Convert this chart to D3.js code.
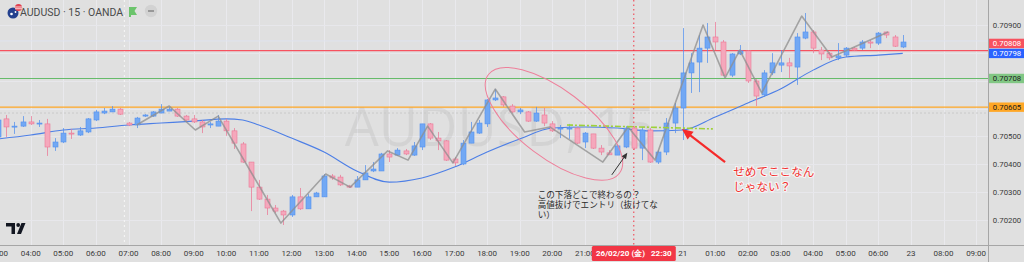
<!DOCTYPE html>
<html>
<head>
<meta charset="utf-8">
<script src="https://cdn.jsdelivr.net/npm/d3@7/dist/d3.min.js"></script>
<style>
  html, body { margin: 0; padding: 0; background: #e0e0e0; }
  svg { display: block; font-family: Roboto, "Noto Sans", sans-serif; }
</style>
</head>
<body>
<div class="chartContainer"></div>
<script>
// 15 min bars, bar 0 = 03:00
const opens = [.70498,.70563,.70534,.70537,.70552,.70545,.70545,.70462,.7048,.70512,
  .70505,.70516,.70559,.70584,.70588,.70598,.70548,.70541,.70573,.70573,
  .70584,.70591,.70598,.70573,.70563,.70552,.70541,.70537,.70555,.7052,
  .70473,.70408,.70318,.70275,.70243,.70232,.70218,.70283,.7024,.70283,
  .70283,.70358,.70354,.70322,.70318,.70344,.70376,.70376,.70437,.70433,
  .70448,.70433,.70462,.70545,.70494,.70484,.70419,.70401,.70476,.70512,
  .70545,.70631,.70642,.70609,.70588,.70588,.70555,.70577,.70545,.70527,
  .70527,.7053,.7048,.70509,.70458,.70441,.70433,.70462,.7053,.70458,
  .70523,.70408,.70444,.70548,.70602,.70728,.70767,.70817,.70857,.70839,
  .7072,.70796,.70807,.70699,.70649,.70728,.70756,.70764,.70749,.70853,
  .70875,.7081,.70799,.70782,.70792,.70817,.70817,.70839,.70835,.70875,
  .70857,.70821]
const highs = [.7057,.70577,.70552,.70573,.70573,.70559,.70563,.70494,.7053,.70527,
  .70534,.70566,.70595,.70602,.70609,.70602,.70552,.7057,.7058,.70591,
  .70616,.70606,.70602,.70577,.70577,.70559,.70552,.70577,.70563,.7053,
  .7048,.70408,.70344,.7029,.70254,.70236,.7029,.70315,.70293,.70301,
  .70365,.70365,.70362,.70326,.70358,.70397,.70408,.70441,.70451,.70458,
  .70455,.7048,.70545,.70548,.70516,.70487,.70426,.70487,.70552,.70559,
  .70634,.7067,.70645,.70616,.70602,.70591,.70606,.70602,.70555,.70541,
  .70545,.70534,.70516,.70509,.70469,.70451,.70469,.70537,.70534,.70534,
  .7053,.70451,.70566,.7062,.70889,.70799,.70864,.70907,.70911,.70846,
  .70799,.70828,.7081,.70706,.70738,.70799,.7081,.70782,.70871,.70943,
  .70882,.70821,.70803,.70835,.70821,.70821,.70846,.70846,.70875,.70875,
  .70864,.70864]
const lows = [.70487,.70498,.70509,.70534,.70541,.70534,.7043,.70448,.70476,.70491,
  .70502,.70512,.70555,.7058,.70588,.70577,.70537,.7053,.7057,.7057,
  .70584,.70591,.7057,.70555,.70548,.70512,.7053,.70537,.70502,.70455,
  .70405,.70232,.70272,.70218,.70225,.70182,.70211,.70236,.7024,.70283,
  .70283,.70344,.70322,.70315,.70318,.70344,.70372,.70376,.70408,.7043,
  .70433,.7043,.70451,.70487,.70451,.70412,.70394,.70397,.70476,.70509,
  .70534,.70627,.70606,.70584,.7058,.70552,.70552,.70537,.70516,.70494,
  .70491,.70473,.70458,.70455,.70433,.70433,.70433,.70458,.70451,.70415,
  .70405,.70401,.70433,.70512,.70487,.70656,.70659,.70764,.7081,.70717,
  .70713,.70792,.70692,.70609,.70642,.7072,.70731,.7071,.70685,.70849,
  .70799,.70774,.70774,.70774,.70785,.70807,.7081,.70817,.70828,.70853,
  .70821,.70817]
const closes = [.70559,.70534,.70537,.70552,.70545,.70548,.70462,.7048,.70512,.70509,
  .7052,.70563,.70588,.70591,.70598,.7058,.70541,.70566,.70577,.70588,
  .70598,.70598,.70573,.70559,.70552,.70534,.70545,.70555,.7052,.70476,
  .70408,.70318,.70275,.70243,.70232,.70218,.70283,.7024,.70283,.70297,
  .70358,.70351,.70326,.70318,.70344,.70369,.70383,.70437,.70426,.70451,
  .70437,.70466,.70545,.70494,.70484,.70415,.70405,.70476,.70516,.70548,
  .70631,.70638,.70613,.70588,.70595,.70555,.70584,.70548,.7052,.7053,
  .7053,.70476,.70512,.70458,.70444,.70434,.70466,.7053,.70458,.70523,
  .70408,.70444,.70548,.70602,.70728,.70764,.70817,.70857,.70839,.7072,
  .70796,.70807,.70699,.70645,.70728,.70764,.70764,.70753,.70857,.70875,
  .70817,.70796,.70782,.70789,.70817,.7081,.70839,.70835,.70871,.70864,
  .70824,.70839]

// moving average
const maBars = [0,4,8,12,16,20,24,28,30,32,36,40,44,48,52,56,60,64,68,72,76,80,84,88,92,96,100,104,108,111]
const maValues = [.70491,.70505,.70523,.7053,.70541,.70548,.70555,.70563,.70559,.70541,.70494,.70444,.70376,.70336,.70351,.7039,.70444,.70491,.7053,.70534,.7053,.7052,.70523,.7057,.7062,.7067,.70738,.70785,.70792,.70798]

// zigzag pivots
const zzBars = [17,21,24.2,27,34.7,40.2,43.2,47.8,50.3,52.7,55.8,61,64.6,67.7,74.2,77.3,80.6,86.5,89.2,91,93.7,98.6,102.3,109.2]
const zzPrices = [.70541,.70609,.70523,.70573,.70189,.70365,.70318,.70448,.70415,.70537,.70405,.7067,.70516,.70534,.70408,.70534,.70415,.709,.7071,.7081,.70656,.70932,.70785,.70875]

const levelPrices = [0.70808, 0.70708, 0.70605]
const levelColors = ['#f7525f', '#66bb6a', '#ffa726']
const prevClose = 0.70584
const faintLevel = 0.70843

const timeLabels = ['03:00','04:00','05:00','06:00','07:00','08:00','09:00','10:00','11:00','12:00',
  '13:00','14:00','15:00','16:00','17:00','18:00','19:00','20:00','21:00','22:00','23:00',
  '21','01:00','02:00','03:00','04:00','05:00','06:00','23','08:00','09:00']
const priceTicks = [0.702, 0.703, 0.704, 0.705, 0.706, 0.707, 0.708, 0.709]

const maLast = 0.70798
const crossBar = 78
const crossLabel = '26/02/20 (金)   22:30'
const sessionBar = 15.5
const dashLineBars = [69.8, 87.7]
const dashLinePrices = [0.70541, 0.70527]

var W = 1024, H = 262, plotR = 988, axisY = 245

var x = d3.scaleLinear().domain([0, 120]).range([-1.9, 976.1])
var y = d3.scaleLinear().domain([0.702, 0.709]).range([220, 25])

var svg = d3.select('.chartContainer')
  .append('svg')
  .attr('width', W)
  .attr('height', H)

svg.append('rect').attr('width', W).attr('height', H).attr('fill', '#e0e0e0')

var clip = svg.append('clipPath').attr('id', 'plot')
clip.append('rect').attr('width', plotR).attr('height', axisY)

var plot = svg.append('g').attr('clip-path', 'url(#plot)')

// grid
plot.append('g')
  .selectAll('line')
  .data(timeLabels)
  .enter()
  .append('line')
  .attr('x1', (d, i) => Math.round(x(i * 4)) + 0.5).attr('x2', (d, i) => Math.round(x(i * 4)) + 0.5)
  .attr('y1', 0).attr('y2', axisY)
  .attr('stroke', '#e9e9ed').attr('stroke-width', 1)

plot.append('g')
  .selectAll('line')
  .data(priceTicks)
  .enter()
  .append('line')
  .attr('x1', 0).attr('x2', plotR)
  .attr('y1', d => Math.round(y(d)) + 0.5).attr('y2', d => Math.round(y(d)) + 0.5)
  .attr('stroke', '#e7e7eb')

plot.append('line')
  .attr('x1', 0).attr('x2', plotR)
  .attr('y1', y(faintLevel)).attr('y2', y(faintLevel))
  .attr('stroke', '#dfe3ee').attr('stroke-width', 1)

// watermark
plot.append('text')
  .attr('x', 500).attr('y', 146)
  .attr('text-anchor', 'middle')
  .attr('font-family', '"Open Sans", sans-serif')
  .attr('font-size', 54)
  .attr('fill', 'rgba(0,0,0,0.055)')
  .text('AUDUSD, 15')

// session break
plot.append('line')
  .attr('x1', x(sessionBar)).attr('x2', x(sessionBar))
  .attr('y1', 0).attr('y2', axisY)
  .attr('stroke', '#f4f4f4').attr('stroke-width', 1.2)
  .attr('stroke-dasharray', '2,3')

// previous close (dotted)
plot.append('line')
  .attr('x1', 0).attr('x2', plotR)
  .attr('y1', y(prevClose)).attr('y2', y(prevClose))
  .attr('stroke', '#c9c9c9').attr('stroke-dasharray', '2,2')

// horizontal levels
plot.append('g')
  .selectAll('line')
  .data(levelPrices)
  .enter()
  .append('line')
  .attr('x1', 0).attr('x2', plotR)
  .attr('y1', d => y(d)).attr('y2', d => y(d))
  .attr('stroke', (d, i) => levelColors[i]).attr('stroke-width', 1.2)

// crosshair
plot.append('line')
  .attr('x1', x(crossBar)).attr('x2', x(crossBar))
  .attr('y1', 0).attr('y2', axisY)
  .attr('stroke', '#f23645').attr('stroke-width', 1)
  .attr('stroke-dasharray', '1.5,3')

// moving average
plot.append('path')
  .datum(maBars.map((b, i) => [b, maValues[i]]))
  .attr('fill', 'none')
  .attr('stroke', '#4d7fe6').attr('stroke-width', 1.1)
  .attr('d', d3.line().x(d => x(d[0])).y(d => y(d[1])).curve(d3.curveMonotoneX))

// candles
var bars = d3.range(opens.length)
var upFill = '#72a8f4', upLine = '#5390ee', dnFill = '#f5a8bc', dnLine = '#eb7896'

var candles = plot.append('g')
  .selectAll('g.candle')
  .data(bars)
  .enter()
  .append('g')
  .classed('candle', true)

candles.append('line')
  .attr('x1', d => Math.round(x(d)) + 0.5).attr('x2', d => Math.round(x(d)) + 0.5)
  .attr('y1', d => y(highs[d])).attr('y2', d => y(lows[d]))
  .attr('stroke', d => closes[d] >= opens[d] ? upLine : dnLine)
  .attr('stroke-opacity', 0.75)

candles.append('rect')
  .attr('x', d => Math.round(x(d)) - 2)
  .attr('width', 5)
  .attr('y', d => y(Math.max(opens[d], closes[d])))
  .attr('height', d => Math.max(1, Math.abs(y(opens[d]) - y(closes[d]))))
  .attr('fill', d => closes[d] >= opens[d] ? upFill : dnFill)
  .attr('stroke', d => closes[d] >= opens[d] ? upLine : dnLine)
  .attr('stroke-width', 0.6)

// zigzag
plot.append('path')
  .datum(zzBars.map((b, i) => [b, zzPrices[i]]))
  .attr('fill', 'none')
  .attr('stroke', '#8e8e8e').attr('stroke-width', 1.6)
  .attr('stroke-opacity', 0.75)
  .attr('stroke-linejoin', 'round')
  .attr('d', d3.line().x(d => x(d[0])).y(d => y(d[1])))

// green dash-dot line
plot.append('line')
  .attr('x1', x(dashLineBars[0])).attr('x2', x(dashLineBars[1]))
  .attr('y1', y(dashLinePrices[0])).attr('y2', y(dashLinePrices[1]))
  .attr('stroke', '#9ed13a').attr('stroke-width', 1.6)
  .attr('stroke-dasharray', '6,2,2,2')

// pink ellipse
plot.append('ellipse')
  .attr('cx', 0).attr('cy', 0).attr('rx', 82).attr('ry', 34)
  .attr('transform', 'translate(' + x(68.2) + ',' + y(0.70545) + ') rotate(37)')
  .attr('fill', 'none')
  .attr('stroke', '#ee7f9a').attr('stroke-width', 1)

function arrow(g, x1, y1, x2, y2, color, w, head) {
  var a = Math.atan2(y2 - y1, x2 - x1)
  g.append('line')
    .attr('x1', x1).attr('y1', y1)
    .attr('x2', x2 - Math.cos(a) * head * 0.6).attr('y2', y2 - Math.sin(a) * head * 0.6)
    .attr('stroke', color).attr('stroke-width', w)
  var p1 = [x2 - Math.cos(a) * head + Math.sin(a) * head * 0.45, y2 - Math.sin(a) * head - Math.cos(a) * head * 0.45]
  var p2 = [x2 - Math.cos(a) * head - Math.sin(a) * head * 0.45, y2 - Math.sin(a) * head + Math.cos(a) * head * 0.45]
  g.append('path')
    .attr('d', 'M' + x2 + ',' + y2 + 'L' + p1 + 'L' + p2 + 'Z')
    .attr('fill', color)
}
arrow(plot, x(75.3), y(0.70362), x(77.2), y(0.70441), '#333', 1, 6)
arrow(plot, x(89.2), y(0.70408), x(83.9), y(0.70527), '#f52a2a', 2.2, 11)

// notes
var noteLines = ['この下落どこで終わるの？', '高値抜けでエントリ（抜けてな', 'い）']
plot.append('g')
  .selectAll('text')
  .data(noteLines)
  .enter()
  .append('text')
  .attr('font-family', '"Noto Sans CJK JP", sans-serif')
  .attr('font-size', 8.6)
  .attr('fill', '#2b2b2b')
  .attr('x', x(66.2))
  .attr('y', (d, i) => 198 + i * 10)
  .text(d => d)

plot.append('g')
  .selectAll('text')
  .data(['せめてここなん', 'じゃない？'])
  .enter()
  .append('text')
  .attr('font-family', '"Noto Sans CJK JP", sans-serif')
  .attr('font-size', 11.6)
  .attr('fill', '#f2302f')
  .attr('stroke', '#ffffff').attr('stroke-width', 2.2)
  .attr('stroke-opacity', 0.7)
  .attr('paint-order', 'stroke')
  .attr('x', x(90.2))
  .attr('y', (d, i) => 176 + i * 14.5)
  .text(d => d)

// axes lines
svg.append('line')
  .attr('x1', 0).attr('x2', W).attr('y1', axisY + 0.5).attr('y2', axisY + 0.5)
  .attr('stroke', '#a6a6a6')
svg.append('line')
  .attr('x1', plotR + 0.5).attr('x2', plotR + 0.5).attr('y1', 0).attr('y2', H)
  .attr('stroke', '#a6a6a6')

// time axis labels (those under the crosshair label are hidden)
var crossX = x(crossBar)
svg.append('g')
  .selectAll('text')
  .data(timeLabels.map((d, i) => [d, i * 4]).filter(d => Math.abs(x(d[1]) - crossX) > 40))
  .enter()
  .append('text')
  .attr('x', d => x(d[1]))
  .attr('y', 256)
  .attr('text-anchor', 'middle')
  .attr('font-size', 8)
  .attr('fill', '#3a3a3a')
  .text(d => d[0])

// crosshair time label
svg.append('rect')
  .attr('x', crossX - 42).attr('y', axisY + 1)
  .attr('width', 84).attr('height', 15)
  .attr('rx', 1.5)
  .attr('fill', '#f23645')
svg.append('text')
  .attr('x', crossX).attr('y', 256)
  .attr('text-anchor', 'middle')
  .attr('font-size', 8)
  .attr('font-weight', 'bold')
  .attr('fill', '#fff')
  .style('white-space', 'pre')
  .text(crossLabel)

var tags = [
  { v: maLast, c: y(maLast), fill: '#2962ff', text: '#fff' },
  { v: levelPrices[0], c: y(maLast) - 10, fill: '#f7525f', text: '#fff' },
  { v: levelPrices[1], c: y(levelPrices[1]), fill: '#81c784', text: '#1d1d1d' },
  { v: levelPrices[2], c: y(levelPrices[2]), fill: '#ffa726', text: '#1d1d1d' }
]

// price axis labels (those under a tag are hidden)
svg.append('g')
  .selectAll('text')
  .data(priceTicks.filter(p => tags.every(t => Math.abs(y(p) - t.c) > 8)))
  .enter()
  .append('text')
  .attr('x', 1007).attr('y', d => y(d) + 3)
  .attr('text-anchor', 'middle')
  .attr('font-size', 7.8)
  .attr('fill', '#3a3a3a')
  .text(d => d.toFixed(5))

var tag = svg.append('g')
  .selectAll('g')
  .data(tags)
  .enter()
  .append('g')
tag.append('rect')
  .attr('x', plotR + 1).attr('y', d => d.c - 4.7)
  .attr('width', W - plotR - 1).attr('height', 9.4)
  .attr('fill', d => d.fill)
tag.append('text')
  .attr('x', 1007).attr('y', d => d.c + 3)
  .attr('text-anchor', 'middle')
  .attr('font-size', 7.8)
  .attr('fill', d => d.text)
  .text(d => d.v.toFixed(5))

// legend
var leg = svg.append('g')
leg.append('circle').attr('cx', 13).attr('cy', 13).attr('r', 5.5).attr('fill', '#23408e')
leg.append('circle').attr('cx', 11.5).attr('cy', 14).attr('r', 1.3).attr('fill', '#fff')
leg.append('circle').attr('cx', 15.5).attr('cy', 12).attr('r', 0.9).attr('fill', '#fff')
leg.append('circle').attr('cx', 18.5).attr('cy', 7.5).attr('r', 3.6).attr('fill', '#e2404f')
leg.append('rect').attr('x', 15).attr('y', 6.6).attr('width', 7).attr('height', 0.8).attr('fill', '#fff')
leg.append('rect').attr('x', 15).attr('y', 8.4).attr('width', 7).attr('height', 0.8).attr('fill', '#fff')
leg.append('text')
  .attr('x', 20).attr('y', 15.5)
  .attr('font-size', 10.5)
  .attr('fill', '#4a4a4a')
  .text('AUDUSD · 15 · OANDA')
leg.append('path')
  .attr('d', 'M129,7 L137,7 L134.5,11 L137,15 L131,15 L131,17 L129,17 Z')
  .attr('fill', '#6cc46c')
leg.append('circle').attr('cx', 151).attr('cy', 11).attr('r', 6.2).attr('fill', '#d2d2d2')
leg.append('rect').attr('x', 148).attr('y', 10.2).attr('width', 6).attr('height', 1.6).attr('fill', '#8a8a8a')

// tv logo
var logo = svg.append('g').attr('fill', '#131722')
logo.append('path').attr('d', 'M6,223 L15,223 L15,234 L11.5,234 L11.5,226.5 L6,226.5 Z')
logo.append('circle').attr('cx', 18.2).attr('cy', 225).attr('r', 1.9)
logo.append('path').attr('d', 'M21.5,223 L25.5,223 L21,234 L17,234 Z')
</script>
</body>
</html>
